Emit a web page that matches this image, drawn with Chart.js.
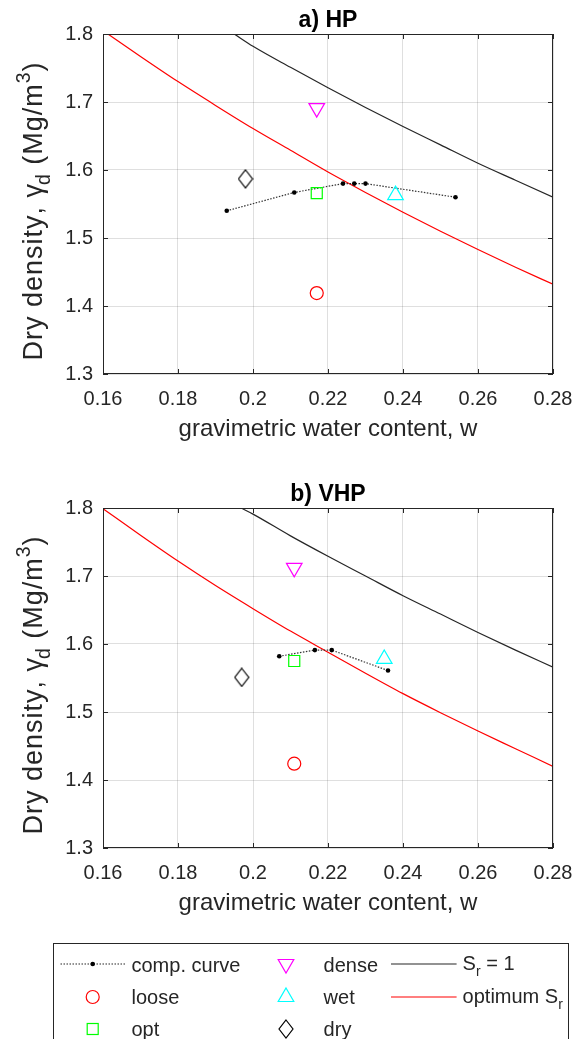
<!DOCTYPE html>
<html><head><meta charset="utf-8">
<script src="https://cdn.jsdelivr.net/npm/chart.js@4.4.0/dist/chart.umd.min.js"></script>
<style>
html,body{margin:0;padding:0;background:#fff;width:586px;height:1039px;overflow:hidden;position:relative;}
canvas{position:absolute;left:0;}
#c1{top:0;}
#c2{top:474px;}
.lg{position:absolute;font-family:'Liberation Sans',Arial,sans-serif;font-size:20px;color:#262626;line-height:20px;white-space:nowrap;}
.lg sub{font-size:14px;vertical-align:-6px;line-height:0;}
#legbox{position:absolute;left:53px;top:943px;width:516px;height:110px;border:1px solid #262626;box-sizing:border-box;}
#legsvg{position:absolute;left:0;top:900px;}
</style></head><body>
<canvas id="c1" width="586" height="444" style="width:586px;height:444px"></canvas>
<canvas id="c2" width="586" height="444" style="width:586px;height:444px"></canvas>
<div id="legbox"></div>
<svg id="legsvg" width="586" height="139" xmlns="http://www.w3.org/2000/svg">
  <line x1="60.5" y1="64" x2="125" y2="64" stroke="#262626" stroke-width="1.2" stroke-dasharray="1.5 1.5"/>
  <circle cx="92.7" cy="64" r="2.3" fill="#000"/>
  <circle cx="92.7" cy="97" r="6.5" fill="none" stroke="#ff0000" stroke-width="1.2"/>
  <rect x="87.2" y="123.5" width="11" height="11" fill="none" stroke="#00ff00" stroke-width="1.2"/>
  <polygon points="278.2,59.5 293.8,59.5 286,73" fill="none" stroke="#ff00ff" stroke-width="1.2"/>
  <polygon points="286,88 293.8,101.5 278.2,101.5" fill="none" stroke="#00ffff" stroke-width="1.2"/>
  <polygon points="286,120 293,129 286,138 279,129" fill="none" stroke="#000" stroke-width="1.2"/>
  <line x1="391" y1="64" x2="456.6" y2="64" stroke="#262626" stroke-width="1.2"/>
  <line x1="391" y1="97" x2="456.6" y2="97" stroke="#ff0000" stroke-width="1.2"/>
</svg>
<div class="lg" style="left:131.5px;top:955px">comp. curve</div>
<div class="lg" style="left:131.5px;top:987px">loose</div>
<div class="lg" style="left:131.5px;top:1019px">opt</div>
<div class="lg" style="left:323.6px;top:955px">dense</div>
<div class="lg" style="left:323.6px;top:987px">wet</div>
<div class="lg" style="left:323.6px;top:1019px">dry</div>
<div class="lg" style="left:462.6px;top:953px">S<sub>r</sub> = 1</div>
<div class="lg" style="left:462.6px;top:986px">optimum S<sub>r</sub></div>
<script>
// ---- axes ----
const xTicks = [0.16, 0.18, 0.20, 0.22, 0.24, 0.26, 0.28];
const xTickLabels = ['0.16', '0.18', '0.2', '0.22', '0.24', '0.26', '0.28'];
const yTicks = [1.3, 1.4, 1.5, 1.6, 1.7, 1.8];
const yTickLabels = ['1.3', '1.4', '1.5', '1.6', '1.7', '1.8'];

// ---- a) HP ----
const hpCompW   = [0.193, 0.211, 0.224, 0.227, 0.230, 0.254];
const hpCompRho = [1.540, 1.567, 1.580, 1.580, 1.580, 1.560];
const hpLooseW = [0.217], hpLooseRho = [1.419];
const hpOptW   = [0.217], hpOptRho   = [1.566];
const hpDenseW = [0.217], hpDenseRho = [1.691];
const hpWetW   = [0.238], hpWetRho   = [1.563];
const hpDryW   = [0.198], hpDryRho   = [1.587];
const hpSatW   = [0.195, 0.20, 0.21, 0.22, 0.23, 0.24, 0.25, 0.26, 0.27, 0.28];
const hpSatRho = [1.800, 1.782, 1.751, 1.721, 1.692, 1.664, 1.637, 1.610, 1.585, 1.560];
const hpOptSrW   = [0.16, 0.17, 0.18, 0.19, 0.20, 0.21, 0.22, 0.23, 0.24, 0.25, 0.26, 0.27, 0.28];
const hpOptSrRho = [1.805, 1.767, 1.730, 1.695, 1.661, 1.629, 1.597, 1.567, 1.538, 1.510, 1.483, 1.457, 1.432];

// ---- b) VHP ----
const vhpCompW   = [0.207, 0.2165, 0.221, 0.236];
const vhpCompRho = [1.582, 1.591, 1.591, 1.561];
const vhpLooseW = [0.211], vhpLooseRho = [1.424];
const vhpOptW   = [0.211], vhpOptRho   = [1.575];
const vhpDenseW = [0.211], vhpDenseRho = [1.712];
const vhpWetW   = [0.235], vhpWetRho   = [1.578];
const vhpDryW   = [0.197], vhpDryRho   = [1.551];
const vhpSatW   = [0.1968, 0.20, 0.21, 0.22, 0.23, 0.24, 0.25, 0.26, 0.27, 0.28];
const vhpSatRho = [1.800, 1.791, 1.759, 1.729, 1.700, 1.671, 1.644, 1.617, 1.591, 1.566];
const vhpOptSrW   = [0.16, 0.17, 0.18, 0.19, 0.20, 0.21, 0.22, 0.23, 0.24, 0.25, 0.26, 0.27, 0.28];
const vhpOptSrRho = [1.799, 1.760, 1.722, 1.686, 1.652, 1.619, 1.588, 1.557, 1.527, 1.499, 1.472, 1.446, 1.420];

const FONT = "'Liberation Sans', Arial, sans-serif";
const INK = '#262626';

function pts(ws, rs) { return ws.map((w, i) => ({ x: w, y: rs[i] })); }

// diamond marker (taller than wide)
const diamond = document.createElement('canvas');
diamond.width = 16; diamond.height = 20;
(function () {
  const g = diamond.getContext('2d');
  g.strokeStyle = '#000'; g.lineWidth = 1.2;
  g.beginPath(); g.moveTo(8, 1); g.lineTo(15, 10); g.lineTo(8, 19); g.lineTo(1, 10); g.closePath(); g.stroke();
})();

const framePlugin = {
  id: 'frame',
  afterDatasetsDraw(chart) {
    const { ctx, chartArea: a, scales } = chart;
    ctx.save();
    ctx.strokeStyle = INK; ctx.lineWidth = 1;
    ctx.beginPath();
    xTicks.forEach(v => {
      const px = Math.round(scales.x.getPixelForValue(v)) + 0.5;
      ctx.moveTo(px, a.bottom); ctx.lineTo(px, a.bottom - 5);
      ctx.moveTo(px, a.top); ctx.lineTo(px, a.top + 5);
    });
    yTicks.forEach(v => {
      const py = Math.round(scales.y.getPixelForValue(v)) + 0.5;
      ctx.moveTo(a.left, py); ctx.lineTo(a.left + 5, py);
      ctx.moveTo(a.right, py); ctx.lineTo(a.right - 5, py);
    });
    ctx.stroke();
    ctx.strokeRect(Math.round(a.left) + 0.5, Math.round(a.top) + 0.5,
      Math.round(a.right - a.left) - 1, Math.round(a.bottom - a.top) - 1);
    ctx.restore();
  }
};

const axisTitlePlugin = {
  id: 'axisTitles',
  afterDraw(chart) {
    const { ctx, chartArea: a } = chart;
    ctx.save();
    ctx.fillStyle = INK;
    ctx.textBaseline = 'alphabetic';
    // x title
    ctx.font = '24px ' + FONT;
    ctx.textAlign = 'center';
    ctx.fillText('gravimetric water content, w', (a.left + a.right) / 2, a.bottom + 62);
    // y title with sub/superscript
    const size = 27;
    const segs = [
      { t: 'Dry density, \u03b3', s: size, dy: 0 },
      { t: 'd', s: size * 0.72, dy: size * 0.3 },
      { t: ' (Mg/m', s: size, dy: 0 },
      { t: '3', s: size * 0.72, dy: -size * 0.45 },
      { t: ')', s: size, dy: 0 }
    ];
    const spacing = 1;
    let total = 0;
    segs.forEach(sg => {
      ctx.font = sg.s + 'px ' + FONT;
      sg.w = ctx.measureText(sg.t).width + spacing * sg.t.length;
      total += sg.w;
    });
    ctx.translate(42, (a.top + a.bottom) / 2 + 7);
    ctx.rotate(-Math.PI / 2);
    ctx.textAlign = 'left';
    let u = -total / 2;
    segs.forEach(sg => {
      ctx.font = sg.s + 'px ' + FONT;
      let uu = u;
      for (const ch of sg.t) {
        ctx.fillText(ch, uu, sg.dy);
        uu += ctx.measureText(ch).width + spacing;
      }
      u += sg.w;
    });
    ctx.restore();
  }
};

function makeChart(id, title, d) {
  const markerBase = { showLine: false, pointBorderWidth: 1.2, pointBackgroundColor: 'rgba(0,0,0,0)' };
  return new Chart(document.getElementById(id), {
    type: 'scatter',
    data: {
      datasets: [
        Object.assign({ label: 'dense', data: pts(d.denseW, d.denseRho), pointStyle: 'triangle', rotation: 180, pointRadius: 9, borderColor: '#ff00ff', pointBorderColor: '#ff00ff' }, markerBase),
        Object.assign({ label: 'wet', data: pts(d.wetW, d.wetRho), pointStyle: 'triangle', pointRadius: 9, borderColor: '#00ffff', pointBorderColor: '#00ffff' }, markerBase),
        Object.assign({ label: 'dry', data: pts(d.dryW, d.dryRho), pointStyle: diamond, pointRadius: 9, borderColor: '#000' }, markerBase),
        Object.assign({ label: 'loose', data: pts(d.looseW, d.looseRho), pointStyle: 'circle', pointRadius: 6.5, borderColor: '#ff0000', pointBorderColor: '#ff0000' }, markerBase),
        Object.assign({ label: 'opt', data: pts(d.optW, d.optRho), pointStyle: 'rect', pointRadius: 7.8, borderColor: '#00ff00', pointBorderColor: '#00ff00' }, markerBase),
        { label: 'comp. curve', data: pts(d.compW, d.compRho), showLine: true, borderColor: '#333', borderWidth: 1.2, borderDash: [1.5, 1.5], pointRadius: 2.3, pointBackgroundColor: '#000', pointBorderWidth: 0, tension: 0 },
        { label: 'S_r = 1', data: pts(d.satW, d.satRho), showLine: true, borderColor: INK, borderWidth: 1.2, pointRadius: 0, cubicInterpolationMode: 'monotone' },
        { label: 'optimum S_r', data: pts(d.optSrW, d.optSrRho), showLine: true, borderColor: '#ff0000', borderWidth: 1.2, pointRadius: 0, cubicInterpolationMode: 'monotone' }
      ]
    },
    options: {
      responsive: false, animation: false, devicePixelRatio: 1,
      layout: { padding: { left: 0, right: 33, top: 0, bottom: 0 } },
      plugins: {
        legend: { display: false }, tooltip: { enabled: false },
        title: { display: true, text: title, fullSize: false, color: '#000',
          font: { family: FONT, size: 23, weight: 'bold', lineHeight: 1 }, padding: { top: 9, bottom: 2 } }
      },
      scales: {
        x: {
          type: 'linear', min: 0.16, max: 0.28,
          afterBuildTicks: s => { s.ticks = xTicks.map(v => ({ value: v })); },
          afterFit: s => { s.height = 70; },
          ticks: { padding: 13, color: INK, font: { family: FONT, size: 20 }, maxRotation: 0,
            callback: v => { const i = xTicks.findIndex(t => Math.abs(t - v) < 1e-9); return i >= 0 ? xTickLabels[i] : ''; } },
          grid: { color: 'rgba(38,38,38,0.15)', drawTicks: false, lineWidth: 1 },
          border: { display: false }
        },
        y: {
          type: 'linear', min: 1.3, max: 1.8,
          afterBuildTicks: s => { s.ticks = yTicks.map(v => ({ value: v })); },
          afterFit: s => { s.width = 103; },
          ticks: { padding: 10, color: INK, font: { family: FONT, size: 20 },
            callback: v => { const i = yTicks.findIndex(t => Math.abs(t - v) < 1e-9); return i >= 0 ? yTickLabels[i] : ''; } },
          grid: { color: 'rgba(38,38,38,0.15)', drawTicks: false, lineWidth: 1 },
          border: { display: false }
        }
      }
    },
    plugins: [framePlugin, axisTitlePlugin]
  });
}

makeChart('c1', 'a) HP', {
  compW: hpCompW, compRho: hpCompRho, looseW: hpLooseW, looseRho: hpLooseRho,
  optW: hpOptW, optRho: hpOptRho, denseW: hpDenseW, denseRho: hpDenseRho,
  wetW: hpWetW, wetRho: hpWetRho, dryW: hpDryW, dryRho: hpDryRho,
  satW: hpSatW, satRho: hpSatRho, optSrW: hpOptSrW, optSrRho: hpOptSrRho
});
makeChart('c2', 'b) VHP', {
  compW: vhpCompW, compRho: vhpCompRho, looseW: vhpLooseW, looseRho: vhpLooseRho,
  optW: vhpOptW, optRho: vhpOptRho, denseW: vhpDenseW, denseRho: vhpDenseRho,
  wetW: vhpWetW, wetRho: vhpWetRho, dryW: vhpDryW, dryRho: vhpDryRho,
  satW: vhpSatW, satRho: vhpSatRho, optSrW: vhpOptSrW, optSrRho: vhpOptSrRho
});
</script>
</body></html>
